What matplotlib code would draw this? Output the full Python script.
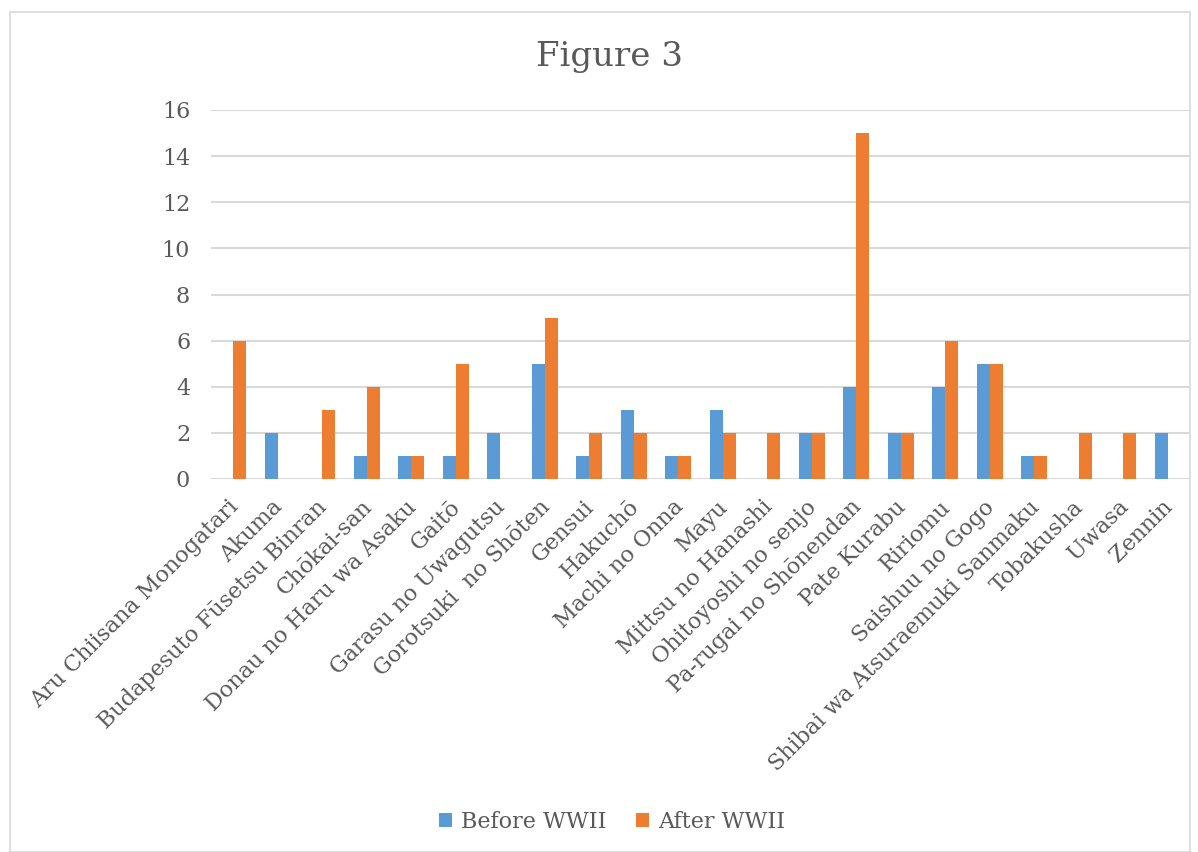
import matplotlib
matplotlib.use("Agg")
import matplotlib.pyplot as plt
import matplotlib.transforms as mtransforms
import numpy as np
from matplotlib.patches import Rectangle

categories = ["Aru Chiisana Monogatari", "Akuma", "Budapesuto Fūsetsu Binran", "Chōkai-san",
              "Donau no Haru wa Asaku", "Gaitō", "Garasu no Uwagutsu", "Gorotsuki  no Shōten",
              "Gensui", "Hakuchō", "Machi no Onna", "Mayu", "Mittsu no Hanashi",
              "Ohitoyoshi no senjo", "Pa-rugai no Shōnendan", "Pate Kurabu", "Ririomu",
              "Saishuu no Gogo", "Shibai wa Atsuraemuki Sanmaku", "Tobakusha", "Uwasa", "Zennin"]
before = [0, 2, 0, 1, 1, 1, 2, 5, 1, 3, 1, 3, 0, 2, 4, 2, 4, 5, 1, 0, 0, 2]
after = [6, 0, 3, 4, 1, 5, 0, 7, 2, 2, 1, 2, 2, 2, 15, 2, 6, 5, 1, 2, 2, 0]
yticks = [0, 2, 4, 6, 8, 10, 12, 14, 16]

plt.rcParams['font.family'] = ['DejaVu Serif']
txt = '#595959'
fig = plt.figure(figsize=(11.98, 8.52), dpi=100)
ax = fig.add_axes([211/1198, 1-479/852, (1190-211)/1198, (479-110)/852])

x = np.arange(len(categories))
w = 0.29
ax.bar(x - w/2, before, w, color='#5b9bd5', label='Before WWII', zorder=3)
ax.bar(x + w/2, after, w, color='#ed7d31', label='After WWII', zorder=3)

ax.set_xlim(-0.5, len(categories) - 0.5)
ax.set_ylim(0, 16)
ax.set_yticks(yticks)
ax.set_yticklabels([str(v) for v in yticks], fontsize=16, color=txt)
ax.yaxis.grid(True, color='#d9d9d9', linewidth=1.5, zorder=0)
ax.tick_params(axis='y', length=0, pad=15)
ax.tick_params(axis='x', length=0, pad=0)
ax.set_xticks(x)
ax.set_xticklabels(categories, rotation=45, ha='right', rotation_mode='anchor', fontsize=16, color=txt)
offset = mtransforms.ScaledTranslation(-6/100, -17/100, fig.dpi_scale_trans)
for lbl in ax.get_xticklabels():
    lbl.set_transform(lbl.get_transform() + offset)
for s in ax.spines.values():
    s.set_visible(False)

fig.text(610/1198, 1-57/852, 'Figure 3', ha='center', va='center', fontsize=24.5, color=txt)
leg = fig.legend(loc='center', bbox_to_anchor=(612/1198, 1-822/852), ncol=2, frameon=False,
                 fontsize=16, handlelength=0.6, handleheight=0.6, columnspacing=1.3, handletextpad=0.4)
for t in leg.get_texts():
    t.set_color(txt)

fig.patches.append(Rectangle((10/1198, 0), 1180/1198, 1-12/852, transform=fig.transFigure,
                             fill=False, edgecolor='#d9d9d9', linewidth=1.2))
fig.savefig('out.png', dpi=100)
